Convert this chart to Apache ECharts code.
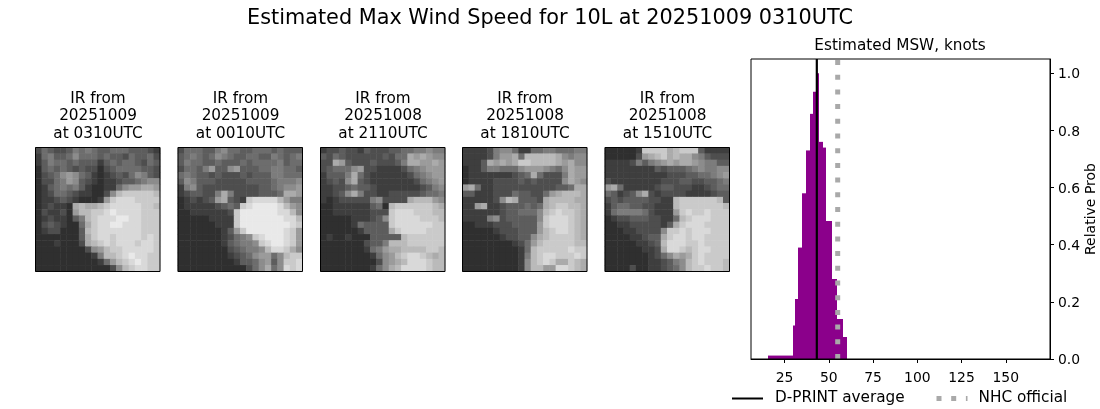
<!DOCTYPE html>
<html>
<head>
<meta charset="utf-8">
<style>html,body{margin:0;padding:0;background:#fff}#main{width:1100px;height:409px}</style>
<script src="https://cdn.jsdelivr.net/npm/echarts@6/dist/echarts.min.js"></script>
</head>
<body>
<div id="main"></div>
<script>
// grey level rows (0-f), top row first
var ir0310 = ["46544576765566655543","36755686665655465564","35766565553565665465","25656545442456666554","24568986532345468754","24467985432334556788","23567675322336899aa9","2346654332248bcccccb","233454322239cdddcccc","234332abaabcdddddccb","2433429bbccdeddddccc","23433257bcdddeeddccc","24543226acddeedddccc","23442225bcdddddddccc","22222225acddcddddcdc","22232224abcdcdddcddc","22222222489bccdddddc","22222222237bbcdeddcc","2222222222369bcdedcc","22222222222248bcddcc"];
var ir0010 = ["46665578665566656555","56765687655665576567","57665565556566667566","46657955895556677665","67655454445455577666","58755544444555567778","37854444444445567889","3455447a744445556aa9","2343459a543cddddb977","2333334565cdeeeedb98","223333334ceeeeeeddb8","222223333ceeeeeeeddb","222222333ceeeeeeeedc","2222222359ceeeeeedc9","222222234678cdeeedc9","2222222356778cdeedc9","22222222456778bddca8","22222222345689968bcc","22222222235568958ccd","22222222222468a68dcd"];
var ir2110 = ["34454435444556677877","54654444445466a9a988","44a95444544457aa99a9","45666894433334678999","35557a64333333467899","34548a54333333346789","33445655433333334578","33458a74433444445667","32344444784444abbb98","22333333562bccccccba","22333333444cdddcccbb","22222333458cddddcccb","22222365555cddddddcc","22222235555acddddccc","2322322255555bcccccc","22222224557bbbcccccc","22222223679aabbbbccb","222222223689bcddcbab","222222222489abdddcbb","22222222368abddddcbb"];
var ir1810 = ["33334788633667766677","33334799a6bbbbba8788","3335a9a9accbbbba9a88","23357766689998768a99","23333333456a64447a99","23333444454544448a98","9a6334444444444556aa","553334446554469abbba","3333348ba5554abbbbaa","339a334555656abccbba","3333334556668bcdccba","3333784555558cdddcba","2233344455559cdddcba","2222234445559bcddcba","222222344558abccccba","222222223469bcccccbb","22222222236bcccccdcc","22222222237bcddcccdc","22222222238bcdcaacba","22222222238bb99ddcba"];
var ir1510 = ["222223ccccabccc53333","2222249abcabaa875444","3333475789a9aa987755","33333333545556787788","33333333334445566789","43333333344455445567","9a633333455444334566","653458a4344443333455","45455554433bccccccb5","35665544333bcccccccb","367777643339cdccdccc","234455544336bcdddccc","22334444435acdddcccc","2223344448ccdcdddccc","222233455acddcddcccc","222223345bdddccdcccc","222222334addcbcddccc","22222223468a9acdcccc","2222222334578bcdcccb","2222422334568bccdccb"];
var irRows = [ir0310, ir0010, ir2110, ir1810, ir1510];
var irTitles = ["IR from\n20251009\nat 0310UTC","IR from\n20251009\nat 0010UTC","IR from\n20251008\nat 2110UTC","IR from\n20251008\nat 1810UTC","IR from\n20251008\nat 1510UTC"];
var irLeft = [35.5, 178, 320.5, 462.5, 605];

// histogram bins (knots) and relative probability
var binStart = [15.5,29.5,30.6,32.8,35.1,37.3,39.6,41.2,42.9,44.6,46.8,48.5,51.9,54.7,58.0];
var binEnd   = [29.5,30.6,32.8,35.1,37.3,39.6,41.2,42.9,44.6,46.8,48.5,51.9,54.7,58.0,60.3];
var binProb  = [0.012,0.117,0.21,0.39,0.58,0.73,0.858,0.935,1.0,0.76,0.74,0.483,0.28,0.14,0.077];
var dprintAvg = 43.2;
var nhcOfficial = 55;
var xTicks = [25,50,75,100,125,150];
var yTicks = [0,0.2,0.4,0.6,0.8,1.0];

var font = 'DejaVu Sans';
var cells = [];
for (var i = 0; i < 20; i++) cells.push(i);

var grids = [], xAxes = [], yAxes = [], series = [], titles = [];
titles.push({text:'Estimated Max Wind Speed for 10L at 20251009 0310UTC', left:550, top:8, padding:0, textAlign:'center',
    textStyle:{fontFamily:font, fontSize:20.8, fontWeight:'normal', color:'#000'}});

irRows.forEach(function(rows, p){
    var data = [];
    rows.forEach(function(row, r){
        for (var c = 0; c < row.length; c++) {
            data.push([c, 19 - r, parseInt(row[c], 16)]);
        }
    });
    grids.push({left:irLeft[p], top:147.5, width:124.5, height:124, show:true, z:5,
        borderColor:'#000', borderWidth:1, backgroundColor:'transparent'});
    xAxes.push({type:'category', gridIndex:p, data:cells, show:false});
    yAxes.push({type:'category', gridIndex:p, data:cells, show:false});
    series.push({type:'heatmap', xAxisIndex:p, yAxisIndex:p, data:data, z:2, silent:true});
    titles.push({text:irTitles[p], left:irLeft[p] + 62.5, top:90, padding:0, textAlign:'center',
        textStyle:{fontFamily:font, fontSize:15.28, fontWeight:'normal', color:'#000', lineHeight:17.5}});
});

titles.push({text:'Estimated MSW, knots', left:900, top:39, padding:0, textAlign:'center',
    textStyle:{fontFamily:font, fontSize:15.28, fontWeight:'normal', color:'#000'}});

// histogram panel
grids.push({left:751, top:59, width:299, height:300, show:true, z:5,
    borderColor:'#000', borderWidth:1, backgroundColor:'transparent'});
xAxes.push({type:'value', gridIndex:5, min:6, max:175, splitLine:{show:false},
    axisLine:{show:true, lineStyle:{color:'#000'}},
    axisTick:{show:true, length:4, customValues:xTicks, lineStyle:{color:'#000'}},
    axisLabel:{color:'#000', fontFamily:font, fontSize:13.9, margin:12, customValues:xTicks}});
yAxes.push({type:'value', gridIndex:5, position:'right', min:0, max:1.05, splitLine:{show:false},
    axisLine:{show:true, lineStyle:{color:'#000'}},
    axisTick:{show:true, length:4, customValues:yTicks, lineStyle:{color:'#000'}},
    axisLabel:{color:'#000', fontFamily:font, fontSize:13.9, margin:8, verticalAlign:'top', lineHeight:3, customValues:yTicks,
        formatter:function(v){ return v.toFixed(1); }},
    name:'Relative Prob', nameLocation:'middle', nameRotate:90, nameGap:29,
    nameTextStyle:{color:'#000', fontFamily:font, fontSize:14}});

series.push({type:'custom', name:'MSW probability', xAxisIndex:5, yAxisIndex:5, silent:true, z:2,
    data:binProb.map(function(v, i){ return [binStart[i], binEnd[i], v]; }),
    encode:{x:[0,1], y:2},
    renderItem:function(params, api){
        var a = api.coord([api.value(0), 0]);
        var b = api.coord([api.value(1), api.value(2)]);
        var x0 = Math.round(a[0]), x1 = Math.round(b[0]);
        return {type:'rect', shape:{x:x0, y:b[1], width:x1-x0, height:a[1]-b[1]},
            style:{fill:'#8b008b'}};
    }});
series.push({type:'line', name:'NHC official', xAxisIndex:5, yAxisIndex:5, symbol:'none', silent:true, z:3,
    data:[[nhcOfficial,0],[nhcOfficial,1.05]],
    lineStyle:{color:'#a9a9a9', width:5, type:[5,9.7]}});
series.push({type:'line', name:'D-PRINT average', xAxisIndex:5, yAxisIndex:5, symbol:'none', silent:true, z:4,
    data:[[dprintAvg,0],[dprintAvg,1.05]],
    lineStyle:{color:'#000', width:2.2}});

var myChart = echarts.init(document.getElementById('main'));
myChart.setOption({
    animation:false,
    backgroundColor:'#fff',
    title:titles,
    grid:grids,
    xAxis:xAxes,
    yAxis:yAxes,
    visualMap:{show:false, type:'continuous', min:0, max:15, seriesIndex:[0,1,2,3,4],
        inRange:{color:['#101010','#f8f8f8']}},
    legend:[
        {data:['D-PRINT average'], left:731, top:391, padding:0, itemWidth:31, itemHeight:14,
            itemStyle:{opacity:0}, lineStyle:{color:'#000', width:2},
            textStyle:{fontFamily:font, fontSize:15.28, color:'#000', padding:[0,0,0,7]}},
        {data:['NHC official'], left:934, top:391, padding:0, itemWidth:31, itemHeight:14,
            itemStyle:{opacity:0}, lineStyle:{color:'#a9a9a9', width:5, type:[5,9.7]},
            textStyle:{fontFamily:font, fontSize:15.28, color:'#000', padding:[0,0,0,6]}}
    ],
    series:series
});
</script>
</body>
</html>
